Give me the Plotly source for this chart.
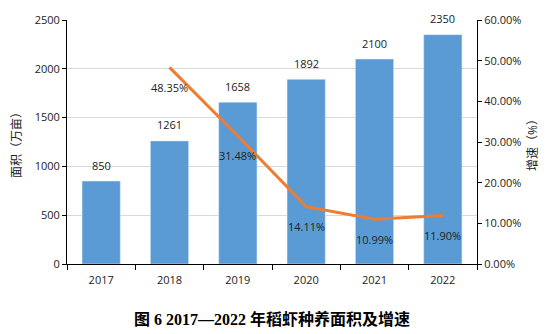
import plotly.graph_objects as go

years = ["2017", "2018", "2019", "2020", "2021", "2022"]
area = [850, 1261, 1658, 1892, 2100, 2350]
growth = [None, 48.35, 31.48, 14.11, 10.99, 11.90]
growth_labels = ["", "48.35%", "31.48%", "14.11%", "10.99%", "11.90%"]

FONT = "Open Sans, Noto Sans CJK SC, sans-serif"
fig = go.Figure()
fig.add_trace(go.Bar(x=years, y=area, marker_color="#5b9bd5", yaxis="y",
                     hoverinfo="skip"))
fig.add_trace(go.Scatter(x=years, y=growth, mode="lines", yaxis="y2",
                         line=dict(color="#ed7d31", width=3), connectgaps=False))

ann = []
for i, v in enumerate(area):
    ann.append(dict(x=i, y=v, xref="x", yref="y", text=str(v), showarrow=False,
                    yshift=16, font=dict(family=FONT, size=11, color="#222")))
for i, (v, t) in enumerate(zip(growth, growth_labels)):
    if v is None:
        continue
    ann.append(dict(x=i, y=v, xref="x", yref="y2", text=t, showarrow=False,
                    yshift=-20, font=dict(family=FONT, size=11, color="#222")))
ann.append(dict(x=0.5, y=-0.225, xref="paper", yref="paper",
                text="<b>图 6 2017—2022 年稻虾种养面积及增速</b>", showarrow=False,
                xanchor="center", yanchor="middle",
                font=dict(family="Liberation Serif, Noto Sans CJK SC, serif", size=16, color="#000")))

fig.update_layout(
    width=555, height=334,
    margin=dict(l=67, r=78, t=20, b=70),
    paper_bgcolor="white", plot_bgcolor="white",
    showlegend=False, bargap=0.44,
    font=dict(family=FONT, size=11, color="#222"),
    xaxis=dict(type="category", range=[-0.5, 5.5], showline=True, linecolor="#000", linewidth=1,
               ticks="outside", tickson="boundaries", ticklen=5, tickcolor="#000",
               ticklabelstandoff=6,
               tickfont=dict(size=11), showgrid=False),
    yaxis=dict(range=[0, 2500], dtick=500, showline=True, linecolor="#000",
               ticks="outside", ticklen=4, tickcolor="#000",
               gridcolor="#d9d9d9", zeroline=False,
               title=dict(text="面积（万亩）", font=dict(size=12), standoff=10)),
    yaxis2=dict(range=[0, 60], dtick=10, overlaying="y", side="right",
                showline=True, linecolor="#000", ticks="outside", ticklen=4,
                tickcolor="#000", tickformat=".2f", ticksuffix="%",
                showgrid=False, zeroline=False,
                title=dict(text="增速（%）", font=dict(size=12), standoff=8)),
    annotations=ann,
)
fig.write_html("out.html")
